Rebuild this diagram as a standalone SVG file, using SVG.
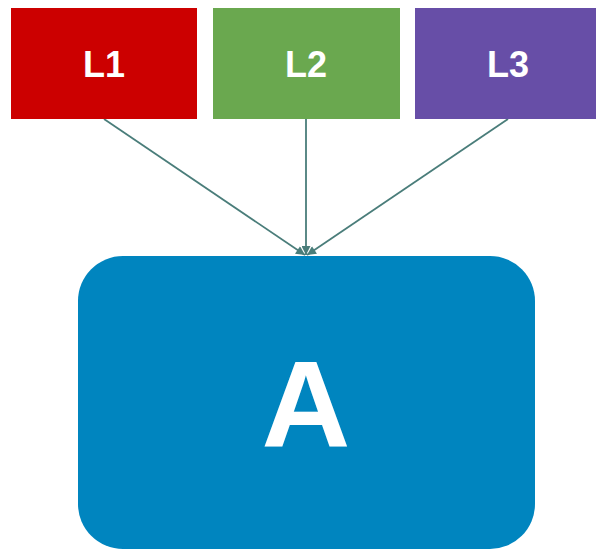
<svg xmlns="http://www.w3.org/2000/svg" width="596" height="550" viewBox="0 0 596 550">
<style>
.lbl{font-family:"Liberation Sans",Arial,sans-serif;font-weight:bold;fill:#fff;text-anchor:middle}
.edge{stroke:#4a7d7a;stroke-width:1.8;fill:none}
</style>
<defs>
<marker id="ah" viewBox="0 0 10 10" refX="10" refY="5" markerWidth="10" markerHeight="9" markerUnits="userSpaceOnUse" orient="auto">
<path d="M0,0 L10,5 L0,10 z" fill="#4a7d7a"/>
</marker>
</defs>
<rect width="596" height="550" fill="#fff"/>
<g id="connectors">
<line class="edge" x1="104" y1="119" x2="305" y2="255" marker-end="url(#ah)"/>
<line class="edge" x1="306" y1="119" x2="306" y2="255" marker-end="url(#ah)"/>
<line class="edge" x1="508" y1="119" x2="307" y2="255" marker-end="url(#ah)"/>
</g>
<g id="L1"><rect x="11" y="8" width="186" height="111" fill="#cc0000"/><text class="lbl" x="104" y="77" font-size="36">L1</text></g>
<g id="L2"><rect x="213" y="8" width="187" height="111" fill="#6aa84f"/><text class="lbl" x="306" y="77" font-size="36">L2</text></g>
<g id="L3"><rect x="415" y="8" width="187" height="111" fill="#674ea7"/><text class="lbl" x="508" y="77" font-size="36">L3</text></g>
<g id="A"><rect x="78" y="256" width="457" height="293" rx="45" ry="45" fill="#0085bf"/><text class="lbl" x="306" y="447" font-size="123">A</text></g>
</svg>
